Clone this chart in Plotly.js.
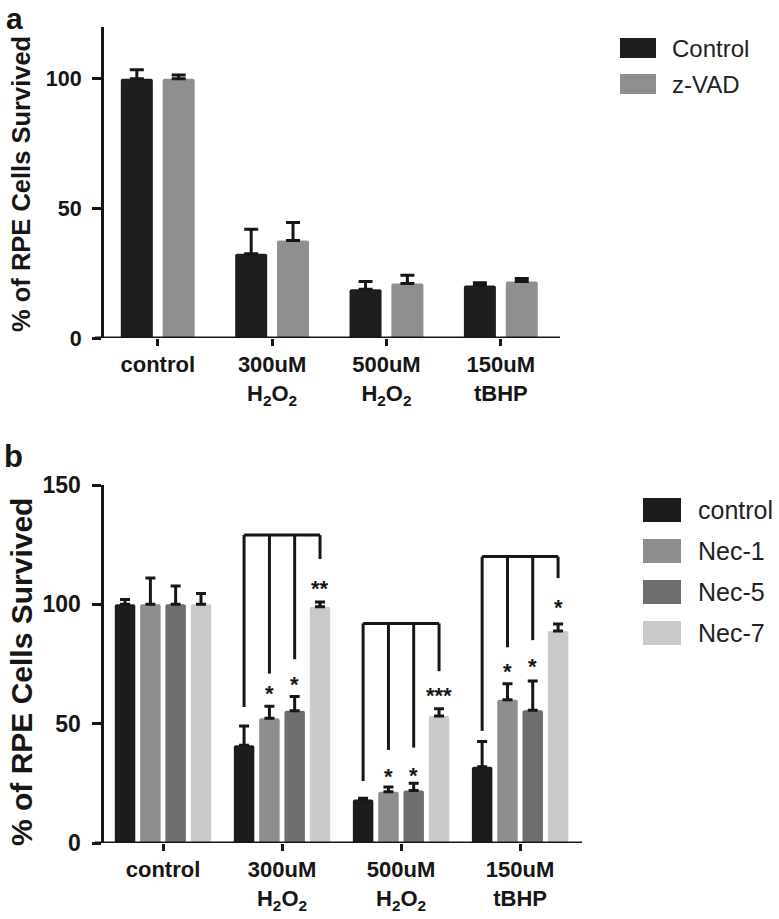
<!DOCTYPE html>
<html>
<head>
<meta charset="utf-8">
<script src="https://cdn.plot.ly/plotly-3.0.1.min.js"></script>
<style>
  body { margin: 0; background: #fff; }
  #chart { width: 779px; height: 919px; }
</style>
</head>
<body>
<div id="chart"></div>
<script>
const categories = ['control', '300uM<br>H<sub>2</sub>O<sub>2</sub>', '500uM<br>H<sub>2</sub>O<sub>2</sub>', '150uM<br>tBHP'];

// panel a
const seriesA = ['Control', 'z-VAD'];
const colorsA = ['#1e1e1e', '#8f8f8f'];
const valuesA = [[100, 32.5, 18.8, 20.3], [100, 37.6, 21, 21.8]];
const errorsA = [[3.5, 9.5, 3, 1], [1.5, 7, 3.2, 1.2]];

// panel b
const seriesB = ['control', 'Nec-1', 'Nec-5', 'Nec-7'];
const colorsB = ['#1c1c1c', '#8e8e8e', '#6e6e6e', '#c9c9c9'];
const valuesB = [
  [100, 41, 18.2, 32],
  [100, 52.3, 21.5, 60],
  [100, 55.4, 22, 55.6],
  [100, 99, 53.2, 88.8]
];
const errorsB = [
  [2, 8, 0.6, 10.5],
  [11, 5, 2, 6.7],
  [7.7, 6, 3, 12.3],
  [4.5, 2, 3, 3]
];

// significance brackets in panel b (group index, height of bar line, end of each drop)
const bracketGroups = [1, 2, 3];
const bracketTop = [129, 92, 120];
const bracketEnds = [[57, 71, 77, 119], [26, 39, 40, 72], [47, 82, 85, 111]];
const starText = [['', '*', '*', '**'], ['', '*', '*', '***'], ['', '*', '*', '*']];
const starY = [[null, 65, 69, 109], [null, 30.5, 31, 64.4], [null, 74.5, 76.3, 101]];

const W = 779, H = 919;
const px = x => x / W;
const py = y => 1 - y / H;
const font = 'Liberation Sans, Arial, sans-serif';
const ink = '#161616';

const offA = [-0.183, 0.183], widthA = 0.28;
const offB = [-0.319, -0.106, 0.106, 0.319], widthB = 0.172;

let traces = [];
seriesA.forEach((name, i) => {
  traces.push({
    type: 'bar', name: name, x: categories, y: valuesA[i], xaxis: 'x', yaxis: 'y',
    width: widthA, offset: offA[i] - widthA / 2,
    marker: { color: colorsA[i], cornerradius: 2 },
    error_y: { type: 'data', symmetric: false, array: errorsA[i], arrayminus: valuesA[i].map(() => 0),
               color: ink, thickness: 3, width: 7 },
    showlegend: false, hoverinfo: 'y'
  });
});
seriesB.forEach((name, i) => {
  traces.push({
    type: 'bar', name: name, x: categories, y: valuesB[i], xaxis: 'x2', yaxis: 'y2',
    width: widthB, offset: offB[i] - widthB / 2,
    marker: { color: colorsB[i], cornerradius: 2 },
    error_y: { type: 'data', symmetric: false, array: errorsB[i], arrayminus: valuesB[i].map(() => 0),
               color: ink, thickness: 3, width: 5 },
    showlegend: false, hoverinfo: 'y'
  });
});

let shapes = [];
let annotations = [];

// x axis baselines (run a little left of the y axis, like the original)
shapes.push({ type: 'line', xref: 'paper', yref: 'y', x0: px(95), x1: px(560), y0: 0, y1: 0, line: { color: ink, width: 3 } });
shapes.push({ type: 'line', xref: 'paper', yref: 'y2', x0: px(95), x1: px(582), y0: 0, y1: 0, line: { color: ink, width: 3 } });

// brackets and stars
bracketGroups.forEach((g, j) => {
  shapes.push({ type: 'line', xref: 'x2', yref: 'y2', x0: g + offB[0], x1: g + offB[3],
                y0: bracketTop[j], y1: bracketTop[j], line: { color: ink, width: 3 } });
  offB.forEach((o, k) => {
    shapes.push({ type: 'line', xref: 'x2', yref: 'y2', x0: g + o, x1: g + o,
                  y0: bracketEnds[j][k], y1: bracketTop[j], line: { color: ink, width: 3 } });
    if (starText[j][k]) {
      annotations.push({ xref: 'x2', yref: 'y2', x: g + o, y: starY[j][k], text: starText[j][k],
                         showarrow: false, xanchor: 'center', yanchor: 'middle', yshift: -6,
                         font: { family: font, size: 22, color: ink, weight: 'bold' } });
    }
  });
});

// legends
function addLegend(names, colors, x0, x1, y0, step, h, tx, size) {
  names.forEach((n, i) => {
    const cy = y0 + i * step;
    shapes.push({ type: 'rect', xref: 'paper', yref: 'paper', x0: px(x0), x1: px(x1),
                  y0: py(cy + h / 2), y1: py(cy - h / 2), fillcolor: colors[i], line: { width: 0 } });
    annotations.push({ xref: 'paper', yref: 'paper', x: px(tx), y: py(cy), xanchor: 'left', yanchor: 'middle',
                       text: n, showarrow: false, font: { family: font, size: size, color: '#222' } });
  });
}
addLegend(seriesA, colorsA, 620, 656, 48, 36, 20, 670, 24);
addLegend(seriesB, colorsB, 643, 681, 510, 41, 24, 696, 25);

// y titles and panel letters
function label(x, y, text, size, angle) {
  annotations.push({ xref: 'paper', yref: 'paper', x: px(x), y: py(y), xanchor: 'center', yanchor: 'middle',
                     textangle: angle, showarrow: false, text: text,
                     font: { family: font, size: size, color: ink, weight: 'bold' } });
}
label(21, 184, '% of RPE Cells Survived', 25.5, -90);
label(21, 672, '% of RPE Cells Survived', 30, -90);
label(14, 19, 'a', 30, 0);
label(13, 456, 'b', 31, 0);

function xAxis(domain, range, anchor) {
  return {
    domain: domain, range: range, anchor: anchor, type: 'category',
    showline: false, showgrid: false, zeroline: false,
    ticks: 'outside', ticklen: 7, tickwidth: 3, tickcolor: ink,
    tickfont: { family: font, size: 22, color: ink, weight: 'bold' },
    fixedrange: true
  };
}
function yAxis(domain, range, tickvals, anchor, size) {
  return {
    domain: domain, range: range, anchor: anchor, tickvals: tickvals,
    showline: true, linewidth: 3, linecolor: ink, showgrid: false, zeroline: false,
    ticks: 'outside', ticklen: 9, tickwidth: 3, tickcolor: ink, ticklabelstandoff: 6,
    tickfont: { family: font, size: size, color: ink, weight: 'bold' },
    fixedrange: true
  };
}

const layout = {
  width: W, height: H,
  margin: { l: 0, r: 0, t: 0, b: 0 },
  paper_bgcolor: '#fff', plot_bgcolor: 'rgba(0,0,0,0)',
  barmode: 'overlay',
  showlegend: false,
  xaxis: xAxis([px(104), px(558)], [-0.47, 3.5], 'y'),
  yaxis: yAxis([py(338), py(27)], [0, 120], [0, 50, 100], 'x', 21.5),
  xaxis2: xAxis([px(103.5), px(582)], [-0.5, 3.52], 'y2'),
  yaxis2: yAxis([py(843), py(485)], [0, 150], [0, 50, 100, 150], 'x2', 23),
  shapes: shapes,
  annotations: annotations
};

Plotly.newPlot('chart', traces, layout, { displayModeBar: false, staticPlot: true });
</script>
</body>
</html>
